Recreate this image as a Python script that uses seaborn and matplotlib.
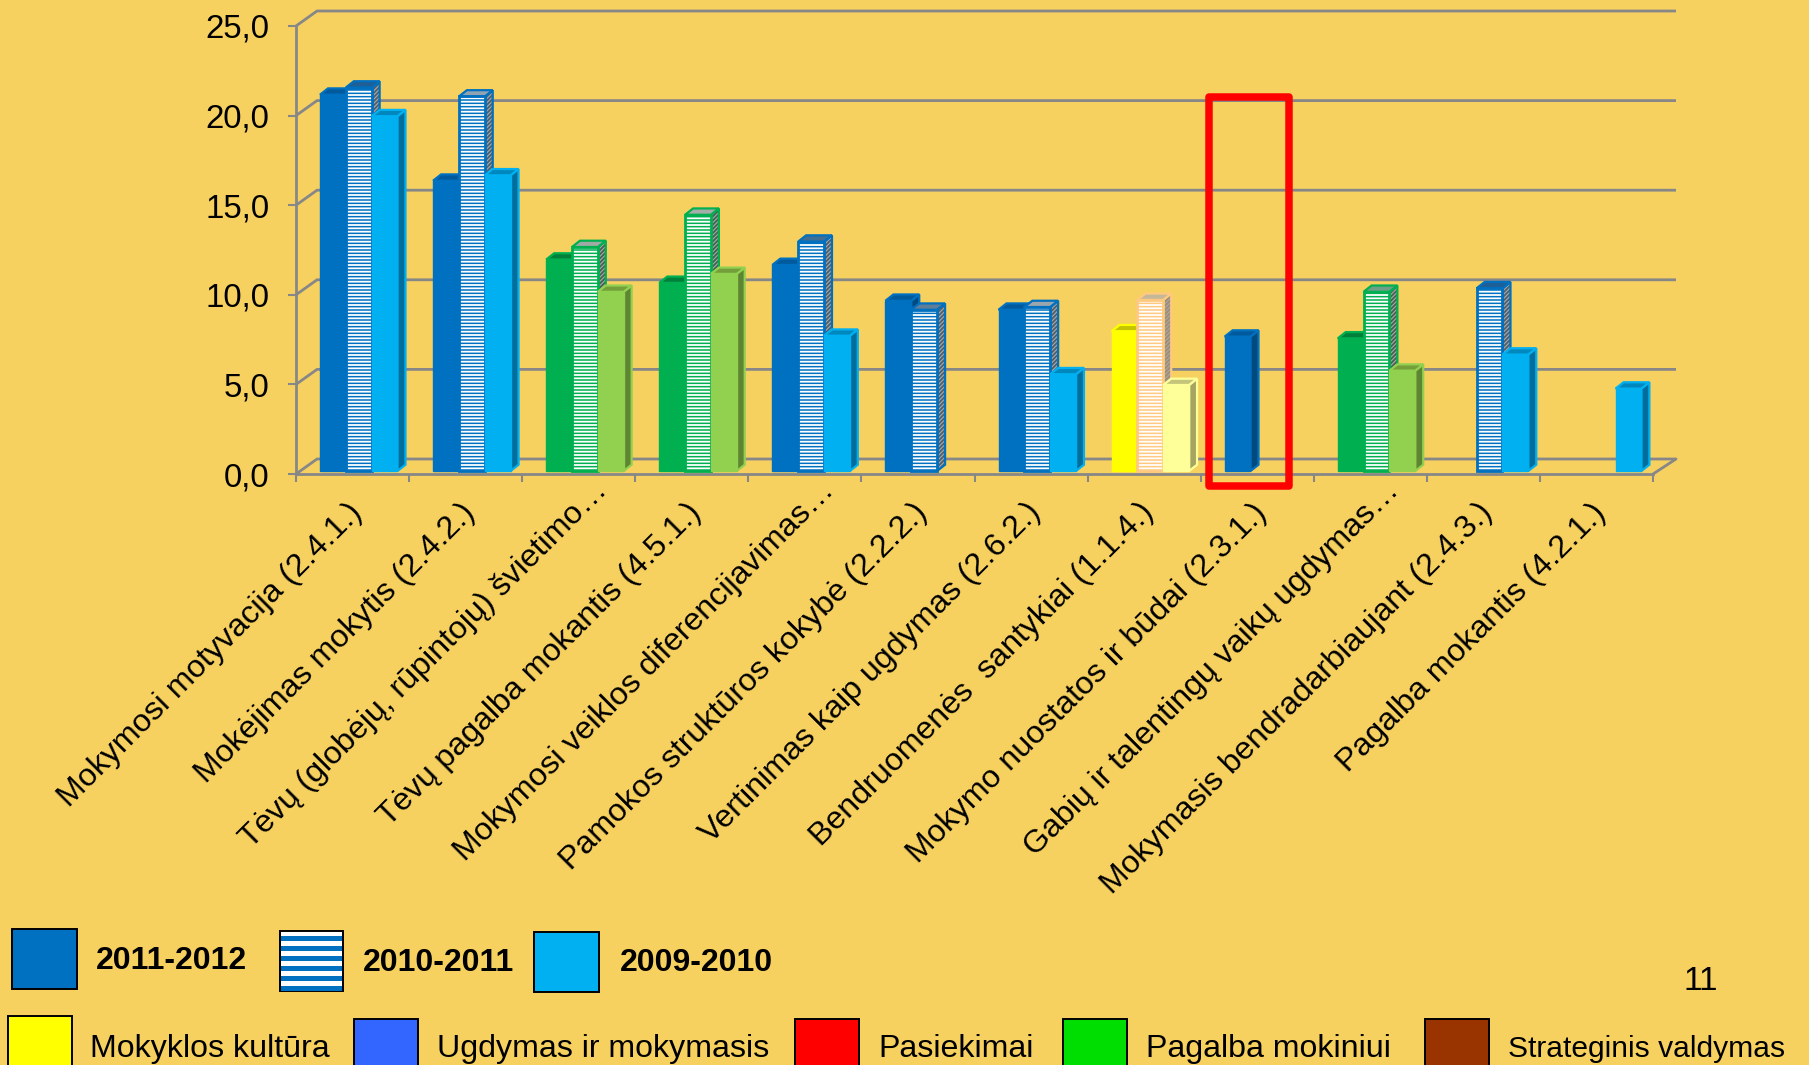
import numpy as np
import pandas as pd
import matplotlib
matplotlib.use("Agg")
import matplotlib.pyplot as plt
import seaborn as sns
from matplotlib.patches import Polygon, Rectangle
from matplotlib.transforms import Affine2D

W, H = 1809, 1065
BG = "#F7D160"
GRAY = "#878787"

labels = [
    "Mokymosi motyvacija (2.4.1.)",
    "Mokėjimas mokytis (2.4.2.)",
    "Tėvų (globėjų, rūpintojų) švietimo…",
    "Tėvų pagalba mokantis (4.5.1.)",
    "Mokymosi veiklos diferencijavimas…",
    "Pamokos struktūros kokybė (2.2.2.)",
    "Vertinimas kaip ugdymas (2.6.2.)",
    "Bendruomenės  santykiai (1.1.4.)",
    "Mokymo nuostatos ir būdai (2.3.1.)",
    "Gabių ir talentingų vaikų ugdymas…",
    "Mokymasis bendradarbiaujant (2.4.3.)",
    "Pagalba mokantis (4.2.1.)",
]
years = ["2011-2012", "2010-2011", "2009-2010"]
v2011 = [21.0, 16.2, 11.8, 10.5, 11.5, 9.5, 9.0, 7.8, 7.5, 7.4, np.nan, np.nan]
v2010 = [21.4, 20.9, 12.5, 14.3, 12.8, 9.0, 9.15, 9.55, np.nan, 10.0, 10.2, np.nan]
v2009 = [19.8, 16.5, 10.0, 11.0, 7.55, np.nan, 5.4, 4.8, np.nan, 5.6, 6.5, 4.6]
yticks = [0, 5, 10, 15, 20, 25]

# spalvos pagal sritį
group_of = ["b", "b", "g", "g", "b", "b", "b", "y", "b", "g", "b", "b"]
front = {"b": ["#0070C0", "#0070C0", "#00B0F0"],
         "g": ["#00B050", "#00B050", "#92D050"],
         "y": ["#FFFF00", "#FFC97F", "#FFFF99"]}
top = {"b": ["#005A9C", "#8FA3B2", "#0088BE"],
       "g": ["#008038", "#9FAAA5", "#739E3A"],
       "y": ["#C4C400", "#C4B79A", "#C4C47A"]}
side = {"b": ["#004A80", "#4D5F6E", "#006E9C"],
        "g": ["#007038", "#46604F", "#5E8532"],
        "y": ["#A5A500", "#A08C70", "#A5A562"]}
# languotų stulpelių viršus kiekvienoje kategorijoje kitoks
hatched_top = ["#1F5F95", "#8FA3B2", "#9FAAA5", "#A5ADA8", "#3D6E96", "#5F7E98",
               "#9AA5AD", "#C4B79A", "#8FA3B2", "#6F9F88", "#1F5F95", "#8FA3B2"]

df = pd.DataFrame({
    "cat": labels * 3,
    "year": np.repeat(years, len(labels)),
    "val": v2011 + v2010 + v2009,
})

sns.set_style("white")
plt.rcParams["font.family"] = ["Liberation Sans", "DejaVu Sans"]
plt.rcParams["text.color"] = "black"
plt.rcParams["hatch.linewidth"] = 1.3

fig = plt.figure(figsize=(W / 100, H / 100), dpi=100, facecolor=BG)


def fx(x):
    return x / W


def fy(y):
    return 1 - y / H


# osys priekinėje plokštumoje
ax = fig.add_axes([fx(296), fy(474), (1653 - 296) / W, (474 - 26) / H])
ax.set_facecolor("none")

sns.barplot(data=df, x="cat", y="val", hue="year", order=labels, hue_order=years,
            width=0.685, gap=0, errorbar=None, legend=False, ax=ax, saturation=1)
ax.set_xlim(-0.5, 11.5)
ax.set_ylim(0, 25)

step_x = (1653 - 296) / 12
step_y = (474 - 26) / 25
shift = ax.transData + Affine2D().translate(6.2, 3)
dx, dy = 8 / step_x, 6.3 / step_y

for h, cont in enumerate(ax.containers):
    for bar in cont:
        if np.isnan(bar.get_height()) or bar.get_height() == 0:
            continue
        x0, w, v = bar.get_x(), bar.get_width(), bar.get_height()
        i = int(round(x0 + w / 2))
        g = group_of[i]
        col = front[g][h]
        z = 3 + 2 * h
        top_pts = [(x0, v), (x0 + dx, v + dy), (x0 + w + dx, v + dy), (x0 + w, v)]
        side_pts = [(x0 + w, 0), (x0 + w + dx, dy), (x0 + w + dx, v + dy), (x0 + w, v)]
        lw = 1.6
        top_col = hatched_top[i] if h == 1 else top[g][h]
        if h == 1:
            ax.add_patch(Polygon(side_pts, closed=True, facecolor="#A4AAAC", edgecolor=side[g][h],
                                 hatch="////////", lw=0, transform=shift, zorder=z, clip_on=False))
            ax.add_patch(Polygon(side_pts, closed=True, fill=False, edgecolor=col, lw=lw,
                                 transform=shift, zorder=z, clip_on=False))
        else:
            ax.add_patch(Polygon(side_pts, closed=True, facecolor=side[g][h], edgecolor=col, lw=lw,
                                 transform=shift, zorder=z, clip_on=False))
        ax.add_patch(Polygon(top_pts, closed=True, facecolor=top_col, edgecolor=col, lw=lw,
                             transform=shift, zorder=z, clip_on=False))
        bar.set_transform(shift)
        bar.set_clip_on(False)
        bar.set_zorder(z + 1)
        bar.set_facecolor(col)
        if h == 1:
            bar.set_edgecolor("white")
            bar.set_linewidth(0)
            bar.set_hatch("-----")
            ax.add_patch(Rectangle((x0, 0), w, v, fill=False, edgecolor=col, lw=2,
                                   transform=shift, zorder=z + 1.5, clip_on=False))
        else:
            bar.set_edgecolor(col)
            bar.set_linewidth(1)

# 3D sienelė ir grindys
wall_x, wall_y = 21 / step_x, 15 / step_y
right_x = 23 / step_x
for v in yticks:
    ax.plot([-0.5, -0.5 + wall_x, 11.5 + right_x], [v, v + wall_y, v + wall_y], color=GRAY, lw=2,
            zorder=1, clip_on=False, solid_capstyle="butt", solid_joinstyle="miter")
ax.plot([11.5, 11.5 + right_x], [0, wall_y], color=GRAY, lw=2, zorder=1, clip_on=False)

for name in ["top", "right"]:
    ax.spines[name].set_visible(False)
for name in ["left", "bottom"]:
    ax.spines[name].set_color(GRAY)
    ax.spines[name].set_linewidth(2)

ax.set_yticks(yticks)
ax.set_yticklabels([f"{v:.1f}".replace(".", ",") for v in yticks], fontsize=23.8, color="black")
ax.set_xticks(np.arange(12))
ax.set_xticklabels(labels, rotation=45, ha="right", rotation_mode="anchor", fontsize=23.1, color="black")
ax.set_xticks(np.arange(-0.5, 12, 1), minor=True)
ax.tick_params(axis="x", which="major", length=0, pad=17)
ax.tick_params(axis="x", which="minor", length=6, width=1.5, color=GRAY, bottom=True)
ax.tick_params(axis="y", length=6, width=1.5, color=GRAY, left=True, pad=13)
for lab in ax.get_xticklabels():
    # sutrumpinti pavadinimai originale baigiasi aukščiau
    if lab.get_text().endswith("…"):
        lab.set_transform(lab.get_transform() + Affine2D().translate(14, 22))
    else:
        lab.set_transform(lab.get_transform() + Affine2D().translate(-6, 0))
ax.set_xlabel("")
ax.set_ylabel("")

# raudonas rėmelis
fig.add_artist(Rectangle((fx(1209), fy(486)), 80 / W, 389 / H, fill=False, edgecolor="#FF0000",
                         lw=5.4, joinstyle="round", transform=fig.transFigure, zorder=20))


def swatch(x, y, w, h, color):
    fig.add_artist(Rectangle((fx(x), fy(y + h)), w / W, h / H, facecolor=color, edgecolor="black",
                             lw=1.4, transform=fig.transFigure, zorder=5))


# legendos
swatch(12, 929, 65, 60, "#0070C0")
swatch(280, 931, 63, 60, "white")
for yy in np.arange(936, 990, 10):
    fig.add_artist(Rectangle((fx(281), fy(yy + 5)), 61 / W, 5 / H, facecolor="#0070C0", lw=0,
                             transform=fig.transFigure, zorder=6))
swatch(534, 932, 65, 60, "#00B0F0")

for x, y, s in [(96, 961, years[0]), (363, 963, years[1]), (620, 963, years[2])]:
    fig.text(fx(x), fy(y), s, fontsize=23, fontweight="bold", va="center", ha="left")

legend_names = ["Mokyklos kultūra", "Ugdymas ir mokymasis", "Pasiekimai", "Pagalba mokiniui", "Strateginis valdymas"]
legend_cols = ["#FFFF00", "#3366FF", "#FF0000", "#00DD00", "#993300"]
legend_x = [8, 354, 795, 1063, 1425]
legend_tx = [90, 437, 878, 1146, 1508]
legend_y = [1016, 1019, 1019, 1019, 1019]
legend_fs = [23.1, 23.1, 23.1, 23.1, 21.6]
for x, tx, y, s, c, fs in zip(legend_x, legend_tx, legend_y, legend_names, legend_cols, legend_fs):
    swatch(x, y, 64, 60, c)
    fig.text(fx(tx), fy(1049), s, fontsize=fs, va="center", ha="left")

fig.text(fx(1701), fy(982), "11", fontsize=24, va="center", ha="center")

fig.savefig("out.png", dpi=100, facecolor=BG)
